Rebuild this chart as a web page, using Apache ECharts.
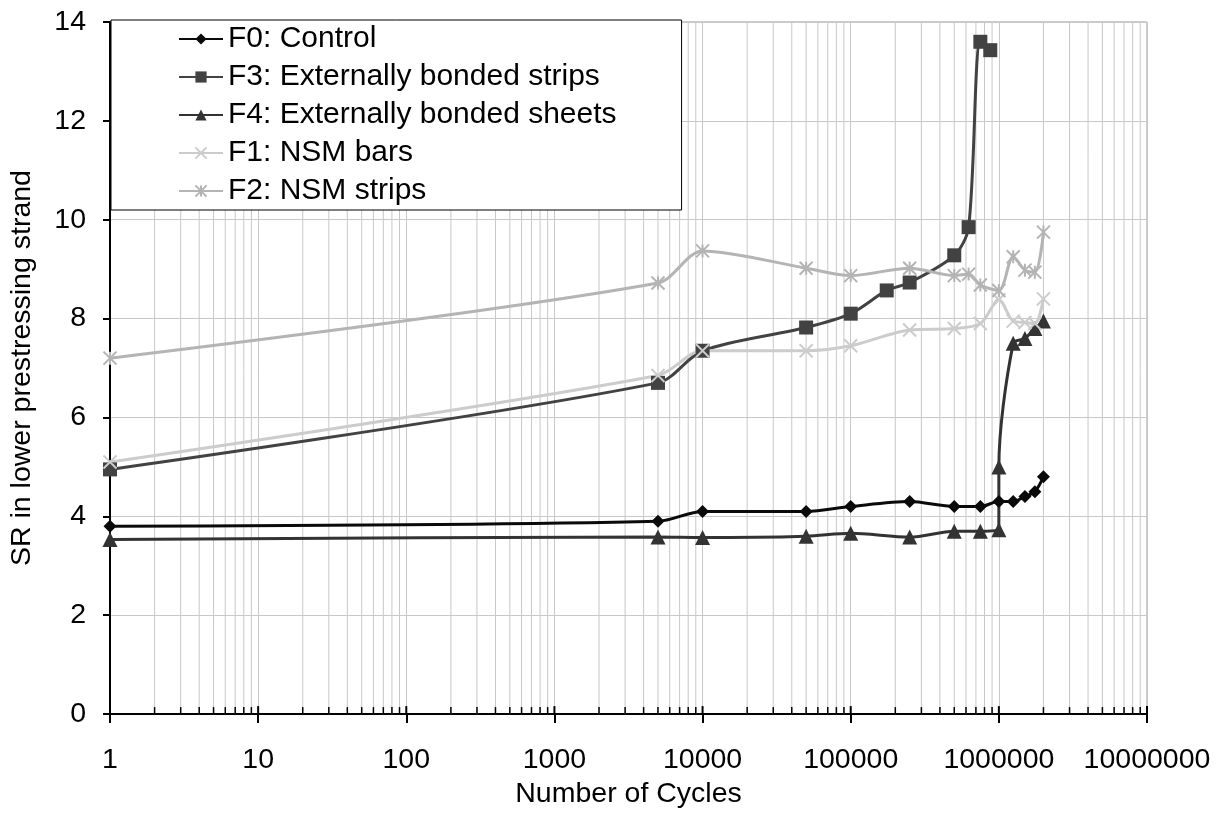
<!DOCTYPE html>
<html>
<head>
<meta charset="utf-8">
<script src="https://cdn.jsdelivr.net/npm/echarts@6/dist/echarts.min.js"></script>
<style>
    html, body { margin: 0; padding: 0; background: #fff; }
    #chart-container { width: 1226px; height: 814px; }
</style>
</head>
<body>
<div id="chart-container"></div>
<script>
const FONT = "'Liberation Sans', Arial, sans-serif"

const cyclesF0 = [1, 5000, 10000, 50000, 100000, 250000, 500000, 750000, 1000000, 1250000, 1500000, 1750000, 2000000]
const srF0 = [3.8, 3.9, 4.1, 4.1, 4.2, 4.3, 4.2, 4.2, 4.3, 4.3, 4.4, 4.5, 4.8]

const cyclesF3 = [1, 5000, 10000, 50000, 100000, 175000, 250000, 500000, 625000, 750000, 875000]
const srF3 = [4.95, 6.7, 7.35, 7.82, 8.1, 8.57, 8.73, 9.28, 9.85, 13.6, 13.43]

const cyclesF4 = [1, 5000, 10000, 50000, 100000, 250000, 500000, 750000, 1000000, 1000000, 1250000, 1500000, 1750000, 2000000]
const srF4 = [3.53, 3.58, 3.57, 3.6, 3.66, 3.58, 3.7, 3.7, 3.73, 5.0, 7.5, 7.6, 7.8, 7.95]

const cyclesF1 = [1, 5000, 10000, 50000, 100000, 250000, 500000, 750000, 1000000, 1250000, 1500000, 1750000, 2000000]
const srF1 = [5.1, 6.85, 7.35, 7.35, 7.45, 7.77, 7.8, 7.9, 8.38, 7.95, 7.92, 7.9, 8.4]

const cyclesF2 = [1, 5000, 10000, 50000, 100000, 250000, 500000, 625000, 750000, 1000000, 1250000, 1500000, 1750000, 2000000]
const srF2 = [7.2, 8.72, 9.37, 9.02, 8.87, 9.02, 8.87, 8.9, 8.68, 8.57, 9.25, 8.98, 8.94, 9.75]

const seriesNames = ['F0: Control', 'F3: Externally bonded strips', 'F4: Externally bonded sheets', 'F1: NSM bars', 'F2: NSM strips']

// log axis decades and the 2..9 steps inside each one
const majorCycles = [1, 10, 100, 1000, 10000, 100000, 1000000, 10000000]
const minorSteps = [2, 3, 4, 5, 6, 7, 8, 9]

const CROSS = 'path://M0,0L10,10M10,0L0,10'
const STAR = 'path://M0,0L10,10M10,0L0,10M5,0L5,10'

const AXIS_FONT = 28.5

const pairs = (xs, ys) => xs.map((x, i) => [x, ys[i]])

const lineSeries = (name, data, color, symbol, symbolSize, stroked) => {
    return {
        name: name,
        type: 'line',
        data: data,
        smooth: 0.3,
        z: 3,
        symbol: symbol,
        symbolSize: symbolSize,
        lineStyle: { color: color, width: 3 },
        itemStyle: stroked
            ? { color: color, borderColor: color, borderWidth: 2 }
            : { color: color, borderWidth: 0 }
    }
}

const renderMinor = (params, api) => {
    const x = api.value(0)
    const top = api.coord([x, 14])
    const bottom = api.coord([x, 0])
    return {
        type: 'group',
        children: [
            { type: 'line', shape: { x1: top[0], y1: top[1], x2: bottom[0], y2: bottom[1] }, style: { stroke: '#c8c8c8', lineWidth: 1 } },
            { type: 'line', shape: { x1: bottom[0], y1: bottom[1], x2: bottom[0], y2: bottom[1] - 7 }, style: { stroke: '#000', lineWidth: 1.5 } }
        ]
    }
}

const renderMajorInside = (params, api) => {
    const bottom = api.coord([api.value(0), 0])
    return { type: 'line', shape: { x1: bottom[0], y1: bottom[1], x2: bottom[0], y2: bottom[1] - 8 }, style: { stroke: '#000', lineWidth: 2 } }
}

window.addEventListener('DOMContentLoaded', () => {
    const chart = echarts.init(document.getElementById('chart-container'))

    const minorCycles = []
    majorCycles.slice(0, -1).forEach(d => minorSteps.forEach(s => minorCycles.push(d * s)))

    chart.setOption({
        animation: false,
        backgroundColor: '#fff',
        textStyle: { fontFamily: FONT },
        grid: {
            left: 107,
            right: 79,
            top: 22,
            bottom: 97,
            show: true,
            borderColor: '#9a9a9a',
            borderWidth: 1
        },
        legend: {
            data: seriesNames,
            orient: 'vertical',
            left: 111,
            top: 20,
            backgroundColor: '#fff',
            borderColor: '#000',
            borderWidth: 1,
            borderRadius: 0,
            padding: [4, 65, 4, 67],
            itemGap: 8,
            itemWidth: 44,
            itemHeight: 14,
            textStyle: { fontSize: 30, color: '#000', fontFamily: FONT }
        },
        xAxis: {
            type: 'log',
            logBase: 10,
            min: 1,
            max: 10000000,
            name: 'Number of Cycles',
            nameLocation: 'middle',
            nameGap: 64,
            nameTextStyle: { fontSize: AXIS_FONT, color: '#000', fontFamily: FONT },
            axisLine: { lineStyle: { color: '#000', width: 2 } },
            axisTick: { inside: false, length: 9, lineStyle: { color: '#000', width: 2 } },
            axisLabel: {
                fontSize: AXIS_FONT,
                color: '#000',
                margin: 32,
                formatter: v => String(Math.round(v))
            },
            splitLine: { show: true, lineStyle: { color: '#c8c8c8', width: 1 } }
        },
        yAxis: {
            type: 'value',
            min: 0,
            max: 14,
            interval: 2,
            name: 'SR in lower prestressing strand',
            nameLocation: 'middle',
            nameGap: 73,
            nameTextStyle: { fontSize: AXIS_FONT, color: '#000', fontFamily: FONT },
            axisLine: { show: true, lineStyle: { color: '#000', width: 2 } },
            axisTick: { show: true, inside: false, length: 7, lineStyle: { color: '#000', width: 2 } },
            axisLabel: { fontSize: AXIS_FONT, color: '#000', margin: 24 },
            splitLine: { show: true, lineStyle: { color: '#c8c8c8', width: 1 } }
        },
        series: [
            {
                type: 'custom',
                z: 1,
                silent: true,
                renderItem: renderMinor,
                data: minorCycles.map(v => [v, 0])
            },
            {
                type: 'custom',
                z: 1,
                silent: true,
                renderItem: renderMajorInside,
                data: majorCycles.map(v => [v, 0])
            },
            lineSeries(seriesNames[0], pairs(cyclesF0, srF0), '#0a0a0a', 'diamond', 13, false),
            lineSeries(seriesNames[1], pairs(cyclesF3, srF3), '#424242', 'rect', 14, false),
            lineSeries(seriesNames[2], pairs(cyclesF4, srF4), '#333333', 'triangle', 15, false),
            lineSeries(seriesNames[3], pairs(cyclesF1, srF1), '#cccccc', CROSS, 13, true),
            lineSeries(seriesNames[4], pairs(cyclesF2, srF2), '#b4b4b4', STAR, 13, true)
        ]
    })
})
</script>
</body>
</html>
